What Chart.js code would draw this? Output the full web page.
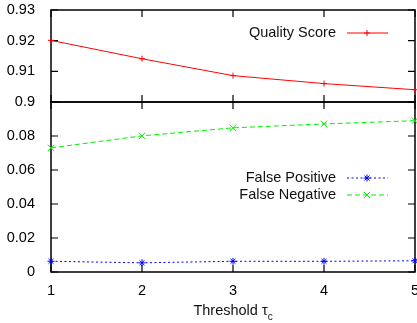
<!DOCTYPE html>
<html lang="en">
<head>
    <meta charset="UTF-8">
    <title>Threshold chart</title>
    <style>
        body {
            margin: 0;
            width: 417px;
            height: 323px;
            overflow: hidden;
            position: relative;
            background: #fff;
            font-family: "Liberation Sans", Arial, sans-serif;
        }
        canvas {
            position: absolute;
            left: 0;
        }
        #top-chart { top: 0; }
        #bottom-chart { top: 92px; }
        #x-title {
            position: absolute;
            left: 51px;
            width: 364px;
            top: 302px;
            text-align: center;
            font-size: 14.5px;
            line-height: 17px;
            color: #111;
        }
        #x-title sub {
            font-size: 10px;
            line-height: 0;
            vertical-align: -5px;
        }
    </style>
    <script src="https://cdn.jsdelivr.net/npm/chart.js"></script>
</head>
<body>
    <canvas id="top-chart" width="440" height="112"></canvas>
    <canvas id="bottom-chart" width="440" height="231"></canvas>
    <div id="x-title">Threshold τ<sub>c</sub></div>

    <script>
        // values
        const thresholds = ['1', '2', '3', '4', '5'];
        const qualityScore = [0.9201, 0.9141, 0.9086, 0.9060, 0.9040];
        const falsePositive = [0.0063, 0.0054, 0.0063, 0.0063, 0.0066];
        const falseNegative = [0.0730, 0.0801, 0.0848, 0.0871, 0.0890];
        const topTicks = [0.90, 0.93];     // min, max of upper panel
        const bottomTicks = [0, 0.1];      // min, max of lower panel

        const FONT = '"Liberation Sans", Arial, sans-serif';
        const PLOT_RIGHT = 415;

        // gnuplot style frame with ticks pointing inwards
        const framePlugin = {
            id: 'frame',
            beforeDatasetsDraw(chart) {
                const {ctx, chartArea: a, scales} = chart;
                ctx.save();
                ctx.strokeStyle = '#000';
                ctx.lineWidth = 1.5;
                ctx.strokeRect(a.left, a.top, a.right - a.left, a.bottom - a.top);
                ctx.lineWidth = 1.2;
                ctx.beginPath();
                scales.x.ticks.forEach((t, i) => {
                    const px = scales.x.getPixelForTick(i);
                    ctx.moveTo(px, a.top); ctx.lineTo(px, a.top + 7);
                    ctx.moveTo(px, a.bottom); ctx.lineTo(px, a.bottom - 7);
                });
                scales.y.ticks.forEach((t, i) => {
                    const py = scales.y.getPixelForTick(i);
                    ctx.moveTo(a.left, py); ctx.lineTo(a.left + 7, py);
                    ctx.moveTo(a.right, py); ctx.lineTo(a.right - 7, py);
                });
                ctx.stroke();
                ctx.restore();
            }
        };

        // key: text right aligned, then a sample of the line with its marker
        const keyPlugin = {
            id: 'key',
            afterDatasetsDraw(chart, args, opts) {
                const ctx = chart.ctx;
                ctx.save();
                ctx.font = '14.5px ' + FONT;
                ctx.textAlign = 'right';
                ctx.textBaseline = 'middle';
                chart.data.datasets.forEach((ds, i) => {
                    const y = opts.top + i * 17;
                    ctx.fillStyle = '#111';
                    ctx.fillText(ds.label, 336, y);
                    ctx.strokeStyle = ds.borderColor;
                    ctx.lineWidth = 1;
                    ctx.setLineDash(ds.borderDash || []);
                    ctx.beginPath();
                    ctx.moveTo(347, y);
                    ctx.lineTo(388, y);
                    ctx.stroke();
                    ctx.setLineDash([]);
                    Chart.helpers.drawPoint(ctx, {
                        pointStyle: ds.pointStyle,
                        radius: ds.pointRadius,
                        borderWidth: 1
                    }, 367, y);
                });
                ctx.restore();
            }
        };

        function yScale(min, max, step, hideMax) {
            return {
                min: min,
                max: max,
                grid: { display: false },
                border: { display: false },
                afterFit: s => {
                    // fixed gutter, and no extra room for the end labels
                    s.width = 51;
                    s.paddingTop = 0;
                    s.paddingBottom = 0;
                },
                ticks: {
                    stepSize: step,
                    padding: 8,
                    color: '#000',
                    font: { family: FONT, size: 14.5 },
                    callback: v => (hideMax && v >= max - 1e-9) ? '' : String(parseFloat(v.toFixed(2)))
                }
            };
        }

        Chart.defaults.animation = false;

        new Chart(document.getElementById('top-chart'), {
            type: 'line',
            data: {
                labels: thresholds,
                datasets: [{
                    label: 'Quality Score',
                    data: qualityScore,
                    borderColor: '#ff0000',
                    backgroundColor: '#ff0000',
                    borderWidth: 1,
                    pointStyle: 'cross',
                    pointRadius: 3,
                    pointBorderWidth: 1,
                    tension: 0,
                    clip: false
                }]
            },
            options: {
                responsive: false,
                layout: { padding: { top: 10, bottom: 10, left: 0, right: 440 - PLOT_RIGHT } },
                plugins: {
                    legend: { display: false },
                    tooltip: { enabled: false },
                    key: { top: 33 }
                },
                scales: {
                    x: {
                        ticks: { display: false },
                        grid: { display: false },
                        border: { display: false },
                        afterFit: s => { s.height = 0; }
                    },
                    y: yScale(topTicks[0], topTicks[1], 0.01, false)
                }
            },
            plugins: [framePlugin, keyPlugin]
        });

        new Chart(document.getElementById('bottom-chart'), {
            type: 'line',
            data: {
                labels: thresholds,
                datasets: [{
                    label: 'False Positive',
                    data: falsePositive,
                    borderColor: '#0000ff',
                    backgroundColor: '#0000ff',
                    borderWidth: 1,
                    borderDash: [2, 2.5],
                    pointStyle: 'star',
                    pointRadius: 3.5,
                    pointBorderWidth: 1,
                    tension: 0,
                    clip: false
                }, {
                    label: 'False Negative',
                    data: falseNegative,
                    borderColor: '#00ee00',
                    backgroundColor: '#00ee00',
                    borderWidth: 1,
                    borderDash: [5, 3],
                    pointStyle: 'crossRot',
                    pointRadius: 4.5,
                    pointBorderWidth: 1,
                    tension: 0,
                    clip: false
                }]
            },
            options: {
                responsive: false,
                layout: { padding: { top: 10, bottom: 0, left: 0, right: 440 - PLOT_RIGHT } },
                plugins: {
                    legend: { display: false },
                    tooltip: { enabled: false },
                    key: { top: 86 }
                },
                scales: {
                    x: {
                        grid: { display: false },
                        border: { display: false },
                        afterFit: s => { s.height = 51; },
                        ticks: {
                            padding: 2,
                            color: '#000',
                            maxRotation: 0,
                            font: { family: FONT, size: 14.5 }
                        }
                    },
                    y: yScale(bottomTicks[0], bottomTicks[1], 0.02, true)
                }
            },
            plugins: [framePlugin, keyPlugin]
        });
    </script>
</body>
</html>
